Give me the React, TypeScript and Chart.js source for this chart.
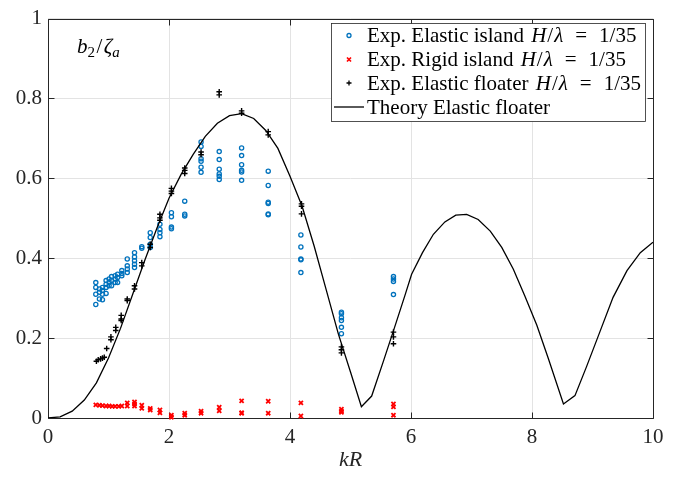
import React, { useEffect, useRef } from 'react';
import { Chart, registerables } from 'chart.js';

Chart.register(...registerables);

// ---------- data ----------
const xTicks = [0, 2, 4, 6, 8, 10];
const xTickLabels = ['0', '2', '4', '6', '8', '10'];
const yTicks = [0, 0.2, 0.4, 0.6, 0.8, 1];
const yTickLabels = ['0', '0.2', '0.4', '0.6', '0.8', '1'];

// Exp. Elastic island H/lambda = 1/35
const elasticIslandKR = [
  0.79, 0.79, 0.79, 0.79,
  0.85, 0.85, 0.85,
  0.9, 0.9, 0.9, 0.9,
  0.96, 0.96, 0.96, 0.96,
  1.01, 1.01, 1.01,
  1.05, 1.05, 1.05,
  1.11, 1.11, 1.11,
  1.15, 1.15, 1.15,
  1.22, 1.22, 1.22,
  1.31, 1.31, 1.31, 1.31,
  1.43, 1.43, 1.43, 1.43, 1.43,
  1.55, 1.55,
  1.69, 1.69, 1.69, 1.69,
  1.85, 1.85, 1.85, 1.85,
  2.04, 2.04, 2.04, 2.04,
  2.26, 2.26, 2.26,
  2.53, 2.53, 2.53, 2.53, 2.53, 2.53,
  2.83, 2.83, 2.83, 2.83, 2.83, 2.83,
  3.2, 3.2, 3.2, 3.2, 3.2, 3.2,
  3.64, 3.64, 3.64, 3.64, 3.64, 3.64,
  4.18, 4.18, 4.18, 4.18, 4.18,
  4.85, 4.85, 4.85, 4.85, 4.85, 4.85,
  5.71, 5.71, 5.71, 5.71,
];
const elasticIslandB2 = [
  0.339, 0.327, 0.31, 0.284,
  0.323, 0.315, 0.298,
  0.327, 0.319, 0.31, 0.296,
  0.344, 0.335, 0.327, 0.312,
  0.348, 0.34, 0.331,
  0.354, 0.344, 0.331,
  0.356, 0.348, 0.339,
  0.36, 0.352, 0.339,
  0.369, 0.362, 0.356,
  0.398, 0.381, 0.373, 0.364,
  0.414, 0.403, 0.394, 0.385, 0.377,
  0.429, 0.425,
  0.464, 0.452, 0.435, 0.427,
  0.485, 0.472, 0.464, 0.454,
  0.514, 0.504, 0.478, 0.474,
  0.543, 0.51, 0.506,
  0.691, 0.68, 0.649, 0.643, 0.628, 0.615,
  0.667, 0.647, 0.623, 0.611, 0.605, 0.597,
  0.676, 0.657, 0.634, 0.62, 0.616, 0.595,
  0.618, 0.582, 0.54, 0.537, 0.511, 0.509,
  0.458, 0.428, 0.398, 0.396, 0.364,
  0.265, 0.261, 0.251, 0.244, 0.227, 0.211,
  0.354, 0.348, 0.342, 0.309,
];

// Exp. Rigid island H/lambda = 1/35
const rigidIslandKR = [
  0.79, 0.85, 0.9, 0.96, 1.01, 1.06, 1.11, 1.17, 1.22,
  1.31, 1.31,
  1.43, 1.43, 1.43,
  1.55, 1.55,
  1.69, 1.69,
  1.85, 1.85,
  2.04, 2.04,
  2.26, 2.26,
  2.53, 2.53,
  2.83, 2.83,
  3.2, 3.2, 3.2,
  3.64, 3.64,
  4.18, 4.18,
  4.85, 4.85, 4.85,
  5.71, 5.71, 5.71,
];
const rigidIslandB2 = [
  0.033, 0.032, 0.031, 0.03, 0.03, 0.029, 0.029, 0.029, 0.03,
  0.038, 0.03,
  0.04, 0.035, 0.03,
  0.032, 0.024,
  0.024, 0.02,
  0.02, 0.013,
  0.007, 0.002,
  0.012, 0.007,
  0.017, 0.012,
  0.027, 0.018,
  0.043, 0.013, 0.012,
  0.042, 0.012,
  0.038, 0.005,
  0.022, 0.017, 0.014,
  0.035, 0.028, 0.007,
];

// Exp. Elastic floater H/lambda = 1/35
const floaterKR = [
  0.8, 0.83, 0.87, 0.9, 0.93,
  0.97,
  1.04, 1.04,
  1.12, 1.12,
  1.21, 1.21, 1.21,
  1.31, 1.31,
  1.43, 1.43,
  1.55, 1.55,
  1.69, 1.69,
  1.85, 1.85, 1.85,
  2.04, 2.04, 2.04,
  2.26, 2.26, 2.26,
  2.53, 2.53,
  2.83, 2.83,
  3.2, 3.2,
  3.64, 3.64,
  4.19, 4.19, 4.19,
  4.85, 4.85, 4.85,
  5.71, 5.71, 5.71,
];
const floaterB2 = [
  0.142, 0.146, 0.148, 0.15, 0.152,
  0.174,
  0.203, 0.196,
  0.227, 0.219,
  0.257, 0.248, 0.244,
  0.298, 0.294,
  0.331, 0.323,
  0.389, 0.381,
  0.435, 0.427,
  0.51, 0.501, 0.495,
  0.575, 0.568, 0.562,
  0.626, 0.62, 0.612,
  0.666, 0.659,
  0.817, 0.809,
  0.769, 0.763,
  0.717, 0.709,
  0.536, 0.53, 0.511,
  0.178, 0.171, 0.163,
  0.215, 0.203, 0.186,
];

// Theory Elastic floater
const theoryKR = [
  0, 0.2, 0.4, 0.6, 0.8, 1.0, 1.2, 1.4, 1.6, 1.8, 2.0, 2.2, 2.4, 2.6, 2.8,
  3.0, 3.2, 3.4, 3.6, 3.8, 4.0, 4.2, 4.4, 4.6, 4.8, 5.0, 5.18, 5.35, 5.55,
  5.75, 5.9, 6.01, 6.19, 6.37, 6.56, 6.74, 6.92, 7.11, 7.31, 7.5, 7.69,
  7.88, 8.08, 8.27, 8.52, 8.71, 8.9, 9.12, 9.34, 9.57, 9.79, 10.0,
];
const theoryB2 = [
  0, 0.003, 0.017, 0.045, 0.088, 0.15, 0.225, 0.31, 0.395, 0.475, 0.55,
  0.61, 0.66, 0.705, 0.738, 0.757, 0.762, 0.75, 0.72, 0.675, 0.605, 0.53,
  0.43, 0.32, 0.21, 0.115, 0.028, 0.055, 0.145, 0.237, 0.307, 0.36, 0.414,
  0.46, 0.491, 0.508, 0.51, 0.497, 0.468, 0.427, 0.373, 0.306, 0.232,
  0.149, 0.035, 0.056, 0.128, 0.215, 0.302, 0.369, 0.414, 0.44,
];

const toPoints = (xs: number[], ys: number[]) => xs.map((x, i) => ({ x, y: ys[i] }));

// ---------- styles ----------
const SERIF = '"Liberation Serif", "Times New Roman", serif';
const BLUE = '#0072BD';
const RED = '#FF0000';
const AXIS = '#262626';
const GRID = '#e3e3e3';

type Run = { t: string; italic?: boolean; size?: number; dy?: number; gap?: number };

function drawRuns(ctx: CanvasRenderingContext2D, x: number, y: number, runs: Run[], baseSize: number) {
  let cx = x;
  for (const r of runs) {
    cx += r.gap || 0;
    const size = r.size || baseSize;
    ctx.font = `${r.italic ? 'italic ' : ''}${size}px ${SERIF}`;
    ctx.fillText(r.t, cx, y + (r.dy || 0));
    cx += ctx.measureText(r.t).width;
  }
  return cx;
}

const ratioRuns = (label: string): Run[] => [
  { t: label },
  { t: 'H', italic: true, gap: 2 },
  { t: '/', gap: 1 },
  { t: 'λ', italic: true, gap: 1 },
  { t: '=', gap: 12 },
  { t: '1/35', gap: 12 },
];

const framePlugin = {
  id: 'frame',
  beforeDatasetsDraw(chart: any) {
    const { ctx, chartArea: a, scales } = chart;
    const x = scales.x;
    const y = scales.y;
    ctx.save();
    ctx.strokeStyle = AXIS;
    ctx.lineWidth = 1;
    const L = Math.round(a.left) + 0.5;
    const R = Math.round(a.right) + 0.5;
    const T = Math.round(a.top) + 0.5;
    const B = Math.round(a.bottom) + 0.5;
    ctx.beginPath();
    ctx.rect(L, T, R - L, B - T);
    const tl = 6;
    xTicks.forEach((v) => {
      const px = Math.round(x.getPixelForValue(v)) + 0.5;
      ctx.moveTo(px, B);
      ctx.lineTo(px, B - tl);
      ctx.moveTo(px, T);
      ctx.lineTo(px, T + tl);
    });
    yTicks.forEach((v) => {
      const py = Math.round(y.getPixelForValue(v)) + 0.5;
      ctx.moveTo(L, py);
      ctx.lineTo(L + tl, py);
      ctx.moveTo(R, py);
      ctx.lineTo(R - tl, py);
    });
    ctx.stroke();
    ctx.restore();
  },
  afterDatasetsDraw(chart: any) {
    const { ctx, chartArea: a } = chart;
    ctx.save();
    // y label inside plot
    ctx.fillStyle = '#000';
    ctx.textBaseline = 'alphabetic';
    ctx.textAlign = 'left';
    drawRuns(ctx, a.left + 29, 53, [
      { t: 'b', italic: true },
      { t: '2', size: 15, dy: 3.5 },
      { t: '/', gap: 1.5 },
      { t: 'ζ', italic: true, gap: 1.5 },
      { t: 'a', italic: true, size: 15, dy: 3.5 },
    ], 21);

    // legend box
    const bx = 331.5, by = 23.5, bw = 314, bh = 98;
    ctx.fillStyle = '#fff';
    ctx.fillRect(bx, by, bw, bh);
    ctx.strokeStyle = AXIS;
    ctx.lineWidth = 0.8;
    ctx.strokeRect(bx, by, bw, bh);

    const rows = [
      { cy: 35.5, kind: 'circle', runs: ratioRuns('Exp. Elastic island ') },
      { cy: 59.5, kind: 'x', runs: ratioRuns('Exp. Rigid island ') },
      { cy: 83, kind: 'plus', runs: ratioRuns('Exp. Elastic floater ') },
      { cy: 107, kind: 'line', runs: [{ t: 'Theory Elastic floater' }] as Run[] },
    ];
    const mx = 349;
    rows.forEach((r) => {
      ctx.beginPath();
      if (r.kind === 'circle') {
        ctx.strokeStyle = BLUE;
        ctx.lineWidth = 1.3;
        ctx.arc(mx, r.cy, 2, 0, Math.PI * 2);
      } else if (r.kind === 'x') {
        ctx.strokeStyle = RED;
        ctx.lineWidth = 1.7;
        ctx.moveTo(mx - 2, r.cy - 2); ctx.lineTo(mx + 2, r.cy + 2);
        ctx.moveTo(mx - 2, r.cy + 2); ctx.lineTo(mx + 2, r.cy - 2);
      } else if (r.kind === 'plus') {
        ctx.strokeStyle = '#000';
        ctx.lineWidth = 1.3;
        ctx.moveTo(mx - 2.5, r.cy); ctx.lineTo(mx + 2.5, r.cy);
        ctx.moveTo(mx, r.cy - 2.5); ctx.lineTo(mx, r.cy + 2.5);
      } else {
        ctx.strokeStyle = '#000';
        ctx.lineWidth = 1.3;
        ctx.moveTo(334, r.cy); ctx.lineTo(364, r.cy);
      }
      ctx.stroke();
      ctx.fillStyle = '#000';
      ctx.textBaseline = 'middle';
      drawRuns(ctx, 367, r.cy + 1, r.runs, 21);
    });
    ctx.restore();
  },
};

export default function App() {
  const ref = useRef<HTMLCanvasElement | null>(null);

  useEffect(() => {
    document.body.style.margin = '0';
    const canvas = ref.current;
    if (!canvas) return;
    const chart = new Chart(canvas, {
      type: 'scatter',
      data: {
        datasets: [
          {
            label: 'Theory Elastic floater',
            data: toPoints(theoryKR, theoryB2),
            showLine: true,
            borderColor: '#000',
            borderWidth: 1.3,
            pointRadius: 0,
            pointHoverRadius: 0,
            tension: 0,
            order: 0,
          },
          {
            label: 'Exp. Elastic floater H/λ = 1/35',
            data: toPoints(floaterKR, floaterB2),
            pointStyle: 'cross',
            pointRadius: 2.8,
            pointBorderWidth: 1.4,
            borderColor: '#000',
            backgroundColor: '#000',
            clip: false,
            order: 1,
          },
          {
            label: 'Exp. Rigid island H/λ = 1/35',
            data: toPoints(rigidIslandKR, rigidIslandB2),
            pointStyle: 'crossRot',
            pointRadius: 2.9,
            pointBorderWidth: 1.8,
            borderColor: RED,
            backgroundColor: RED,
            clip: false,
            order: 2,
          },
          {
            label: 'Exp. Elastic island H/λ = 1/35',
            data: toPoints(elasticIslandKR, elasticIslandB2),
            pointStyle: 'circle',
            pointRadius: 2.1,
            pointBorderWidth: 1.3,
            borderColor: BLUE,
            backgroundColor: 'rgba(0,0,0,0)',
            clip: false,
            order: 3,
          },
        ] as any,
      },
      options: {
        responsive: false,
        animation: false,
        devicePixelRatio: 1,
        layout: { padding: { left: 0, right: 30, top: 16, bottom: 0 } },
        plugins: {
          legend: { display: false },
          tooltip: { enabled: false },
        },
        events: [],
        scales: {
          x: {
            type: 'linear',
            min: 0,
            max: 10,
            afterFit: (s: any) => { s.height = 59; },
            afterBuildTicks: (s: any) => { s.ticks = xTicks.map((v) => ({ value: v })); },
            ticks: {
              padding: 7,
              color: '#262626',
              font: { family: SERIF, size: 21 },
              maxRotation: 0,
              autoSkip: false,
              callback: (v: any) => {
                const i = xTicks.findIndex((t) => Math.abs(t - Number(v)) < 1e-9);
                return i >= 0 ? xTickLabels[i] : '';
              },
            },
            grid: { color: GRID, lineWidth: 1, drawTicks: false },
            border: { display: false },
            title: {
              display: true,
              text: 'kR',
              color: '#262626',
              font: { family: SERIF, size: 22, style: 'italic' },
              padding: { top: 0, bottom: 4 },
            },
          },
          y: {
            type: 'linear',
            min: 0,
            max: 1,
            afterFit: (s: any) => { s.width = 48; },
            afterBuildTicks: (s: any) => { s.ticks = yTicks.map((v) => ({ value: v })); },
            ticks: {
              padding: 6,
              color: '#262626',
              font: { family: SERIF, size: 21 },
              autoSkip: false,
              callback: (v: any) => {
                const i = yTicks.findIndex((t) => Math.abs(t - Number(v)) < 1e-9);
                return i >= 0 ? yTickLabels[i] : '';
              },
            },
            grid: { color: GRID, lineWidth: 1, drawTicks: false },
            border: { display: false },
          },
        },
      } as any,
      plugins: [framePlugin],
    });
    return () => chart.destroy();
  }, []);

  return (
    <div style={{ position: 'fixed', left: 0, top: 0, width: 683, height: 477, background: '#fff' }}>
      <canvas ref={ref} width={683} height={477} style={{ width: 683, height: 477, display: 'block' }} />
    </div>
  );
}
